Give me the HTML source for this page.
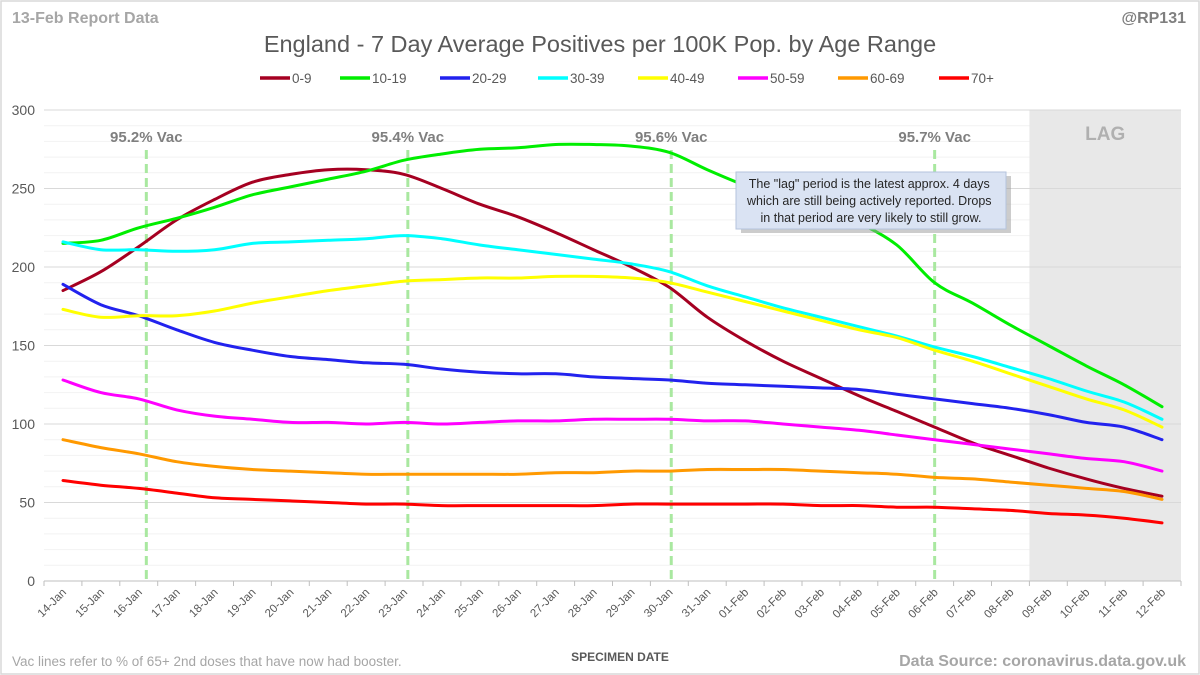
<!DOCTYPE html>
<html><head><meta charset="utf-8"><style>
body{margin:0;background:#fff;}
svg{display:block;font-family:"Liberation Sans",sans-serif;}
</style></head><body>
<svg id="chart" width="1200" height="675" xmlns="http://www.w3.org/2000/svg">
<rect x="1" y="1" width="1198" height="673" fill="#fff" stroke="#d9d9d9" stroke-width="1.5"/>
<g id="grid"></g>
<rect id="lag" fill="#e8e8e8"/>
<g id="grid2"></g>
<g id="vac"></g>
<g id="series"></g>
<g id="axes"></g>
<text x="12" y="23" font-size="16" font-weight="bold" fill="#a6a6a6">13-Feb Report Data</text>
<text x="1186" y="23" font-size="16" font-weight="bold" fill="#7f7f7f" text-anchor="end">@RP131</text>
<text x="600" y="52" font-size="23.5" fill="#595959" text-anchor="middle">England - 7 Day Average Positives per 100K Pop. by Age Range</text>
<g id="legend"></g>
<text x="620" y="661" font-size="12" font-weight="bold" fill="#595959" text-anchor="middle">SPECIMEN DATE</text>
<text x="12" y="666" font-size="13.5" fill="#a6a6a6">Vac lines refer to % of 65+ 2nd doses that have now had booster.</text>
<text x="1186" y="666" font-size="16" font-weight="bold" fill="#a6a6a6" text-anchor="end">Data Source: coronavirus.data.gov.uk</text>
<g>
<rect x="741" y="176" width="270" height="57" fill="#999" opacity="0.5"/>
<rect x="736" y="172" width="270" height="57" fill="#dae3f3" stroke="#b4c3dc" stroke-width="1"/>
<text font-size="12.5" fill="#262626" text-anchor="middle">
<tspan x="871" y="188">The "lag" period is the latest approx. 4 days</tspan>
<tspan x="871" y="205">which are still being actively reported. Drops</tspan>
<tspan x="871" y="222">in that period are very likely to still grow.</tspan>
</text></g>
</svg>
<script>
const dates=["14-Jan","15-Jan","16-Jan","17-Jan","18-Jan","19-Jan","20-Jan","21-Jan","22-Jan","23-Jan","24-Jan","25-Jan","26-Jan","27-Jan","28-Jan","29-Jan","30-Jan","31-Jan","01-Feb","02-Feb","03-Feb","04-Feb","05-Feb","06-Feb","07-Feb","08-Feb","09-Feb","10-Feb","11-Feb","12-Feb"];
const yTicks=[0,50,100,150,200,250,300];
const seriesNames=["0-9","10-19","20-29","30-39","40-49","50-59","60-69","70+"];
const seriesColors=["#a50021","#00ee00","#2222ee","#00ffff","#ffff00","#ff00ff","#ff9900","#ff0000"];
const s0=[185,197,213,230,243,254,259,262,262,259,250,240,232,222,211,200,187,168,153,140,129,118,108,98,88,80,72,65,59,54];
const s1=[215,217,225,231,238,246,251,256,261,268,272,275,276,278,278,277,273,262,252,244,236,228,214,190,177,163,150,137,125,111];
const s2=[189,176,169,160,152,147,143,141,139,138,135,133,132,132,130,129,128,126,125,124,123,122,119,116,113,110,106,101,98,90];
const s3=[216,211,211,210,211,215,216,217,218,220,218,214,211,208,205,202,197,188,181,174,168,162,156,149,143,136,129,121,114,103];
const s4=[173,168,169,169,172,177,181,185,188,191,192,193,193,194,194,193,190,184,178,172,166,160,155,147,140,132,124,116,109,98];
const s5=[128,120,116,109,105,103,101,101,100,101,100,101,102,102,103,103,103,102,102,100,98,96,93,90,87,84,81,78,76,70];
const s6=[90,85,81,76,73,71,70,69,68,68,68,68,68,69,69,70,70,71,71,71,70,69,68,66,65,63,61,59,57,52];
const s7=[64,61,59,56,53,52,51,50,49,49,48,48,48,48,48,49,49,49,49,49,48,48,47,47,46,45,43,42,40,37];
const allSeries=[s0,s1,s2,s3,s4,s5,s6,s7];
const vacLabels=["95.2% Vac","95.4% Vac","95.6% Vac","95.7% Vac"];
const vacPos=[2.2,9.1,16.05,23.0];
const lagStart=26;
const NS="http://www.w3.org/2000/svg";
const X0=44,X1=1181,Y0=581,Y1=110,YMAX=300;
const band=(X1-X0)/dates.length;
const xb=i=>X0+band*i;
const xc=i=>X0+band*(i+0.5);
const y=v=>Y0-(v/YMAX)*(Y0-Y1);
function mk(tag,attrs,parent){const e=document.createElementNS(NS,tag);for(const k in attrs)e.setAttribute(k,attrs[k]);parent.appendChild(e);return e;}
const grid=document.getElementById('grid'),grid2=document.getElementById('grid2');
for(let v=0;v<=YMAX;v+=10){
  const l=mk('line',{x1:X0,x2:X1,y1:y(v),y2:y(v),stroke:v%50==0?'#d9d9d9':'#f2f2f2','stroke-width':1},v%50==0?grid2:grid);
  
  
}
const lag=document.getElementById('lag');
lag.setAttribute('x',xb(lagStart));lag.setAttribute('y',Y1);lag.setAttribute('width',X1-xb(lagStart));lag.setAttribute('height',Y0-Y1);
const lt=mk('text',{x:(xb(lagStart)+X1)/2,y:Y1+30,'font-size':19,'font-weight':'bold',fill:'#b0b0b0','text-anchor':'middle'},document.getElementById('vac'));
lt.textContent='LAG';


const vac=document.getElementById('vac');
vacLabels.forEach((t,k)=>{
  const xx=xc(vacPos[k]);
  const l=mk('line',{x1:xx,x2:xx,y1:150,y2:Y0,stroke:'#a9e8a0','stroke-width':3,'stroke-dasharray':'9,5'},vac);
  
  
  const tx=mk('text',{x:xx,y:142,'font-size':15,'font-weight':'bold',fill:'#7f7f7f','text-anchor':'middle'},vac);
  tx.textContent=t;
  
  
});
const sg=document.getElementById('series');
allSeries.forEach((s,k)=>{
  const pts=s.map((v,i)=>[xc(i),y(v)]);
  let d='M'+pts[0][0].toFixed(1)+','+pts[0][1].toFixed(1);
  for(let i=0;i<pts.length-1;i++){
    const p0=pts[Math.max(0,i-1)],p1=pts[i],p2=pts[i+1],p3=pts[Math.min(pts.length-1,i+2)];
    const c1=[p1[0]+(p2[0]-p0[0])/6,p1[1]+(p2[1]-p0[1])/6];
    const c2=[p2[0]-(p3[0]-p1[0])/6,p2[1]-(p3[1]-p1[1])/6];
    d+='C'+c1[0].toFixed(1)+','+c1[1].toFixed(1)+' '+c2[0].toFixed(1)+','+c2[1].toFixed(1)+' '+p2[0].toFixed(1)+','+p2[1].toFixed(1);
  }
  const p=mk('path',{d:d,fill:'none',stroke:seriesColors[k],'stroke-width':3,'stroke-linejoin':'round','stroke-linecap':'round'},sg);
  
  
});
const ax=document.getElementById('axes');
mk('line',{x1:X0,x2:X1,y1:Y0,y2:Y0,stroke:'#bfbfbf','stroke-width':1},ax);
for(let i=0;i<=dates.length;i++)mk('line',{x1:xb(i),x2:xb(i),y1:Y0,y2:Y0+5,stroke:'#bfbfbf'},ax);
yTicks.forEach(v=>{
  const t=mk('text',{x:35,y:y(v)+5,'font-size':14,fill:'#595959','text-anchor':'end'},ax);
  t.textContent=v;
  
  
});
dates.forEach((dt,i)=>{
  const xx=xc(i)+4,yy=Y0+12;
  const t=mk('text',{x:xx,y:yy,'font-size':11.5,fill:'#595959','text-anchor':'end',transform:`rotate(-45 ${xx} ${yy})`},ax);
  t.textContent=dt;
  
  
});
const lg=document.getElementById('legend');
const lx=[260,340,440,538,638,738,838,939];
seriesNames.forEach((n,k)=>{
  const g=mk('g',{},lg);
  
  
  mk('line',{x1:lx[k],x2:lx[k]+30,y1:78,y2:78,stroke:seriesColors[k],'stroke-width':3.5},g);
  const t=mk('text',{x:lx[k]+32,y:83,'font-size':13.5,fill:'#595959'},g);
  t.textContent=n;
});
</script>
</body></html>
